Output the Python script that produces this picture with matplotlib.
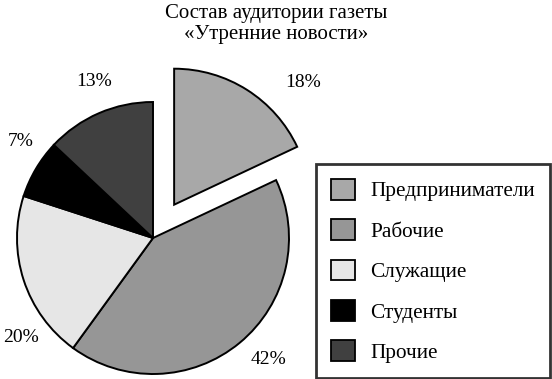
import matplotlib
matplotlib.use("Agg")
from matplotlib import pyplot as plt
from matplotlib.patches import Patch

# data
categories = ["Предприниматели", "Рабочие", "Служащие", "Студенты", "Прочие"]
shares = [18, 42, 20, 7, 13]
colors = ["#a8a8a8", "#969696", "#e6e6e6", "#000000", "#404040"]
explode = [0.29, 0, 0, 0, 0]
title = "Состав аудитории газеты\n«Утренние новости»"

# where each percent label sits (pie radius = 1, centre = 0,0)
label_pos = [(1.10, 1.14), (0.85, -0.89), (-0.97, -0.73), (-0.97, 0.71), (-0.43, 1.15)]

plt.rcParams['font.family'] = ['Liberation Serif', 'DejaVu Serif']

fig = plt.figure(figsize=(5.52, 3.79), dpi=100)
ax = fig.add_axes([0, 0, 1, 1])

wedges, texts, autotexts = ax.pie(
    shares, colors=colors, explode=explode, startangle=90, counterclock=False,
    autopct=lambda p: f"{p:.0f}%",
    wedgeprops=dict(edgecolor="black", linewidth=1.4),
    textprops=dict(fontsize=14, color="black"))
for t, pos in zip(autotexts, label_pos):
    t.set_position(pos)
    t.set_ha('center')
    t.set_va('center')

# pie centre sits at (153, 238) px, radius 136 px
ax.set_xlim(-153 / 136, (552 - 153) / 136)
ax.set_ylim(-(379 - 238) / 136, 238 / 136)
ax.set_aspect('auto')
ax.axis('off')

fig.text(0.5, 0.99, title, ha='center', va='top', fontsize=15, linespacing=1.17)

handles = [Patch(facecolor=c, edgecolor="black", linewidth=1.3) for c in colors]
leg = fig.legend(handles, categories, loc='upper left',
                 bbox_to_anchor=(316 / 552, 1 - 164 / 379),
                 fontsize=15.3, frameon=True, fancybox=False,
                 edgecolor="black", handlelength=1.12, handleheight=1.12,
                 labelspacing=0.84, handletextpad=0.75, borderpad=0.7,
                 borderaxespad=0)
leg.get_frame().set_linewidth(2)

fig.savefig("out.png", dpi=100)
